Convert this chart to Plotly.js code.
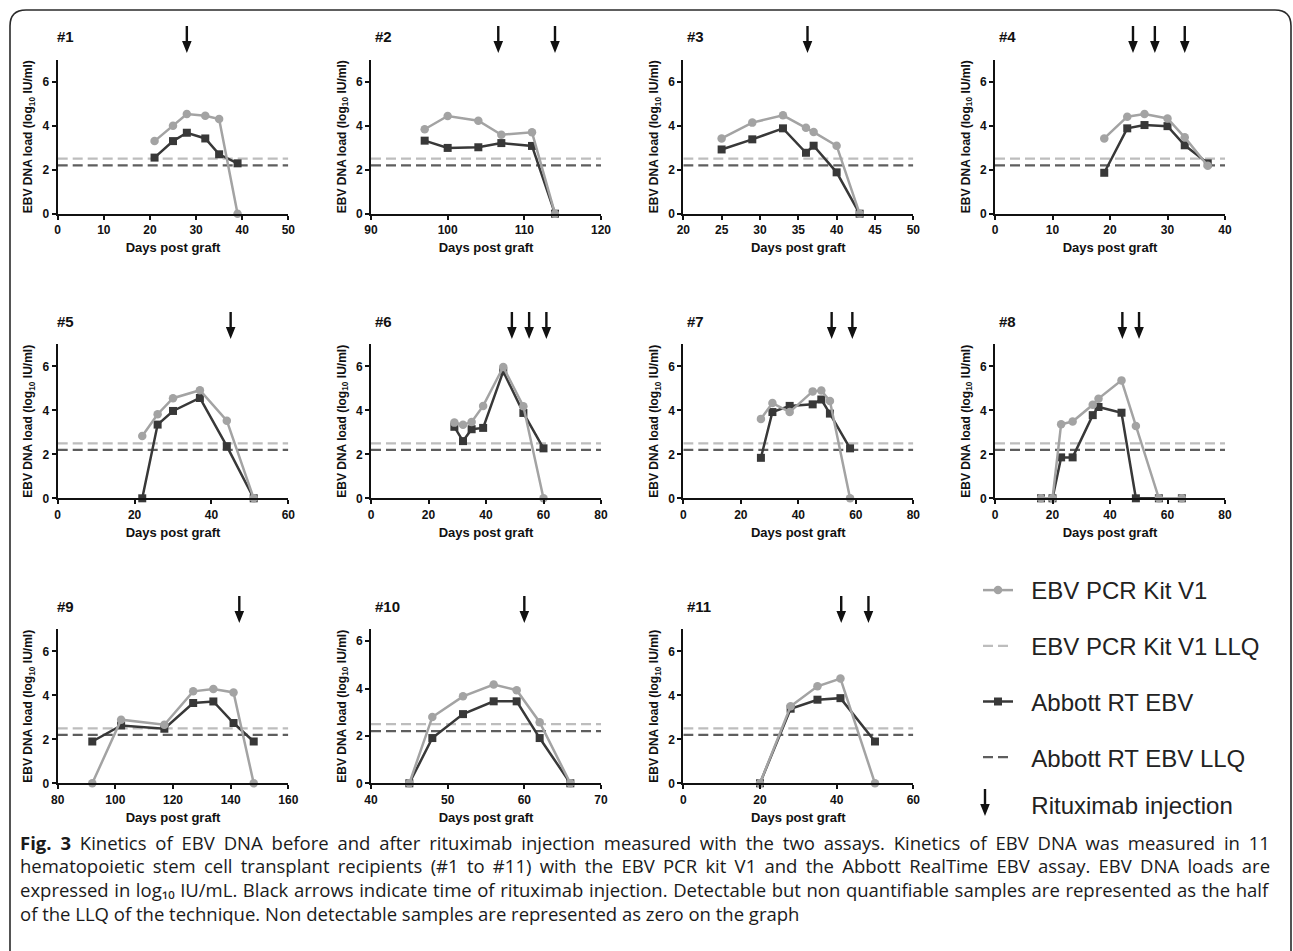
<!DOCTYPE html>
<html><head><meta charset="utf-8">
<script src="https://cdn.plot.ly/plotly-3.0.1.min.js"></script>
<style>html,body{margin:0;padding:0;background:#fff}#chart{width:1293px;height:951px}</style>
</head><body><div id="chart"></div>
<script>
// ---------- data ----------
const panelLabels = ['#1','#2','#3','#4','#5','#6','#7','#8','#9','#10','#11'];
const seriesNames = ['EBV PCR Kit V1','EBV PCR Kit V1 LLQ','Abbott RT EBV','Abbott RT EBV LLQ','Rituximab injection'];
const pcrLLQ = 2.5;
const abbottLLQ = 2.2;

const p1Days = [21,25,28,32,35,39];
const p1Pcr = [3.3,4.0,4.53,4.45,4.3,0];
const p1Abbott = [2.55,3.3,3.68,3.42,2.7,2.29];
const p1Rtx = [28];

const p2Days = [97,100,104,107,111,114];
const p2Pcr = [3.84,4.44,4.23,3.59,3.7,0];
const p2Abbott = [3.32,2.99,3.02,3.21,3.08,0];
const p2Rtx = [106.6,114];

const p3Days = [25,29,33,36,37,40,43];
const p3Pcr = [3.42,4.14,4.47,3.91,3.71,3.09,0];
const p3Abbott = [2.92,3.38,3.88,2.77,3.09,1.88,0];
const p3Rtx = [36.2];

const p4Days = [19,23,26,30,33,37];
const p4Pcr = [3.42,4.41,4.53,4.33,3.47,2.18];
const p4Abbott = [1.86,3.88,4.03,3.98,3.11,2.29];
const p4Rtx = [24,27.8,33];

const p5Days = [22,26,30,37,44,51];
const p5Pcr = [2.83,3.82,4.55,4.91,3.53,0];
const p5Abbott = [0,3.35,3.97,4.56,2.37,0];
const p5Rtx = [45];

const p6Days = [29,32,35,39,46,53,60];
const p6Pcr = [3.44,3.34,3.47,4.2,5.97,4.18,0];
const p6Abbott = [3.25,2.6,3.14,3.2,5.77,3.88,2.27];
const p6Rtx = [49,55,61];

const p7Days = [27,31,37,45,48,51,58];
const p7Pcr = [3.61,4.33,3.92,4.86,4.9,4.42,0];
const p7Abbott = [1.84,3.92,4.2,4.27,4.49,3.85,2.27];
const p7Rtx = [51.6,58.8];

const p8Days = [16,20,23,27,34,36,44,49,57,65];
const p8Pcr = [0,0,3.37,3.49,4.25,4.53,5.36,3.29,0,0];
const p8Abbott = [0,0,1.86,1.86,3.78,4.15,3.89,0,0,0];
const p8Rtx = [44.3,50.1];

const p9Days = [92,102,117,127,134,141,148];
const p9Pcr = [0,2.89,2.66,4.18,4.29,4.13,0];
const p9Abbott = [1.9,2.63,2.48,3.65,3.72,2.74,1.9];
const p9Rtx = [143];

const p10Days = [45,48,52,56,59,62,66];
const p10Pcr = [0,2.8,3.67,4.17,3.93,2.58,0];
const p10Abbott = [0,1.91,2.92,3.46,3.46,1.91,0];
const p10Rtx = [60];

const p11Days = [20,28,35,41,50];
const p11Pcr = [0,3.5,4.41,4.76,0];
const p11Abbott = [0,3.39,3.8,3.87,1.9];
const p11Rtx = [41.2,48.3];

const captionLines = [
  '<b>Fig. 3</b> Kinetics of EBV DNA before and after rituximab injection measured with the two assays. Kinetics of EBV DNA was measured in 11',
  'hematopoietic stem cell transplant recipients (#1 to #11) with the EBV PCR kit V1 and the Abbott RealTime EBV assay. EBV DNA loads are',
  'expressed in log\u2081\u2080 IU/mL. Black arrows indicate time of rituximab injection. Detectable but non quantifiable samples are represented as the half',
  'of the LLQ of the technique. Non detectable samples are represented as zero on the graph'
];

// ---------- layout geometry ----------
const W = 1293, H = 951;
const FONT = 'Liberation Sans, Arial, Helvetica, sans-serif';
const colsPx = [[57.7,288.3],[371,601],[683.3,913.3],[995,1225]];
const rowsPx = [[213.7,59.7],[498.3,344.3],[783.3,629.3]];
const arrowTipPx = [53, 339, 623];
const labelYPx = [37, 321.7, 606.7];
const labelXPx = [55, 373, 685, 997];

const panels = [
  {d:p1Days,  pcr:p1Pcr,  ab:p1Abbott,  rtx:p1Rtx,  xr:[0,50],   dt:10, ymax:7},
  {d:p2Days,  pcr:p2Pcr,  ab:p2Abbott,  rtx:p2Rtx,  xr:[90,120], dt:10, ymax:7},
  {d:p3Days,  pcr:p3Pcr,  ab:p3Abbott,  rtx:p3Rtx,  xr:[20,50],  dt:5,  ymax:7},
  {d:p4Days,  pcr:p4Pcr,  ab:p4Abbott,  rtx:p4Rtx,  xr:[0,40],   dt:10, ymax:7},
  {d:p5Days,  pcr:p5Pcr,  ab:p5Abbott,  rtx:p5Rtx,  xr:[0,60],   dt:20, ymax:7},
  {d:p6Days,  pcr:p6Pcr,  ab:p6Abbott,  rtx:p6Rtx,  xr:[0,80],   dt:20, ymax:7},
  {d:p7Days,  pcr:p7Pcr,  ab:p7Abbott,  rtx:p7Rtx,  xr:[0,80],   dt:20, ymax:7},
  {d:p8Days,  pcr:p8Pcr,  ab:p8Abbott,  rtx:p8Rtx,  xr:[0,80],   dt:20, ymax:7},
  {d:p9Days,  pcr:p9Pcr,  ab:p9Abbott,  rtx:p9Rtx,  xr:[80,160], dt:20, ymax:7},
  {d:p10Days, pcr:p10Pcr, ab:p10Abbott, rtx:p10Rtx, xr:[40,70],  dt:10, ymax:6.5},
  {d:p11Days, pcr:p11Pcr, ab:p11Abbott, rtx:p11Rtx, xr:[0,60],   dt:20, ymax:7}
];

const GRAY = '#a3a3a3', GRAY_LLQ = '#bdbdbd', DARK = '#383838', DARK_LLQ = '#5e5e5e', AXIS = '#111111';
// down-pointing arrow, tip at the anchor, stem going up (pixel units, +y is up)
const ARROW_PATH = 'M0,0 L-4.8,12 L-1.2,12 L-1.2,27 L1.2,27 L1.2,12 L4.8,12 Z';
const NB = '\u00a0\u00a0';

const legendFont = {family: FONT, size: 24, color: '#222'};
const traces = [];
const annotations = [];
const shapes = [];
const layout = {
  width: W, height: H,
  margin: {l:0, r:0, t:0, b:0},
  paper_bgcolor: '#ffffff', plot_bgcolor: 'rgba(0,0,0,0)',
  font: {family: FONT, color: '#111'},
  showlegend: true,
  legend: {
    x: 978/W, y: 1 - 568/H, xanchor: 'left', yanchor: 'top',
    font: legendFont, bgcolor: 'rgba(0,0,0,0)', borderwidth: 0,
    traceorder: 'grouped', tracegroupgap: 21.5, itemwidth: 30
  },
  legend2: {
    x: 978/W, y: 1 - 805/H, xanchor: 'left', yanchor: 'middle',
    font: legendFont, bgcolor: 'rgba(0,0,0,0)', borderwidth: 0, itemwidth: 30
  },
  hovermode: false
};

function arrowShape(xref, xval, tipPaperY) {
  return {
    type: 'path', xref: xref, yref: 'paper',
    xsizemode: 'pixel', xanchor: xval, ysizemode: 'pixel', yanchor: tipPaperY,
    path: ARROW_PATH, fillcolor: '#111', line: {width: 0}, layer: 'above'
  };
}

panels.forEach((p, i) => {
  const n = i + 1;
  const sfx = n === 1 ? '' : String(n);
  const xa = 'x' + sfx, ya = 'y' + sfx;
  const row = Math.floor(i / 4), col = i % 4;
  const tickFont = {family: FONT, size: 12, color: AXIS, weight: 'bold'};
  layout['xaxis' + sfx] = {
    domain: [colsPx[col][0]/W, colsPx[col][1]/W], anchor: ya,
    range: p.xr, tick0: p.xr[0], dtick: p.dt,
    showline: true, linecolor: AXIS, linewidth: 2,
    ticks: 'outside', ticklen: 4, tickwidth: 2, tickcolor: AXIS,
    showgrid: false, zeroline: false, tickfont: tickFont,
    title: {text: 'Days post graft', font: {family: FONT, size: 13, color: AXIS, weight: 'bold'}, standoff: 7}
  };
  layout['yaxis' + sfx] = {
    domain: [1 - rowsPx[row][0]/H, 1 - rowsPx[row][1]/H], anchor: xa,
    range: [0, p.ymax], tickvals: [0,2,4,6],
    showline: true, linecolor: AXIS, linewidth: 2,
    ticks: 'outside', ticklen: 4, tickwidth: 2, tickcolor: AXIS,
    showgrid: false, zeroline: false, tickfont: tickFont,
    title: {text: 'EBV DNA load (log<sub>10</sub> IU/ml)', font: {family: FONT, size: 12, color: AXIS, weight: 'bold'}, standoff: 7}
  };
  const first = i === 0;
  traces.push({
    x: p.xr, y: [pcrLLQ, pcrLLQ], xaxis: xa, yaxis: ya, mode: 'lines',
    line: {color: GRAY_LLQ, width: 2.2, dash: '10px,5px'},
    name: NB + seriesNames[1], legendgroup: 'g2', legendrank: 2, showlegend: first, cliponaxis: false
  });
  traces.push({
    x: p.xr, y: [abbottLLQ, abbottLLQ], xaxis: xa, yaxis: ya, mode: 'lines',
    line: {color: DARK_LLQ, width: 2.2, dash: '10px,5px'},
    name: NB + seriesNames[3], legendgroup: 'g4', legendrank: 4, showlegend: first, cliponaxis: false
  });
  traces.push({
    x: p.d, y: p.ab, xaxis: xa, yaxis: ya, mode: 'lines+markers',
    line: {color: DARK, width: 2.5}, marker: {symbol: 'square', size: 8, color: DARK},
    name: NB + seriesNames[2], legendgroup: 'g3', legendrank: 3, showlegend: first, cliponaxis: false
  });
  traces.push({
    x: p.d, y: p.pcr, xaxis: xa, yaxis: ya, mode: 'lines+markers',
    line: {color: GRAY, width: 2.5}, marker: {symbol: 'circle', size: 8.5, color: GRAY},
    name: NB + seriesNames[0], legendgroup: 'g1', legendrank: 1, showlegend: first, cliponaxis: false
  });
  annotations.push({
    text: '<b>' + panelLabels[i] + '</b>', xref: 'paper', yref: 'paper',
    x: labelXPx[col]/W, y: 1 - labelYPx[row]/H, xanchor: 'left', yanchor: 'middle',
    showarrow: false, font: {family: FONT, size: 15, color: AXIS}
  });
  p.rtx.forEach(day => shapes.push(arrowShape(xa, day, 1 - arrowTipPx[row]/H)));
});

// legend entry for the arrows (its symbol is drawn as a shape)
traces.push({
  x: [null], y: [null], xaxis: 'x', yaxis: 'y', mode: 'markers',
  marker: {color: 'rgba(0,0,0,0)', size: 1},
  name: NB + seriesNames[4], legend: 'legend2', showlegend: true
});
shapes.push(arrowShape('paper', 985/W, 1 - 816/H));

// caption
const capY = [842, 865.8, 889.6, 913.4];
const capJustify = [true, true, true, false];
captionLines.forEach((t, k) => {
  annotations.push({
    text: t, xref: 'paper', yref: 'paper', x: 18/W, y: 1 - capY[k]/H,
    xanchor: 'left', yanchor: 'middle', align: 'left', showarrow: false,
    font: {family: 'Open Sans, Noto Sans, DejaVu Sans, sans-serif', size: 18.5, color: '#1a1a1a'}
  });
});

// rounded frame (open at bottom)
function P(px, py) { return (px/W).toFixed(5) + ',' + (1 - py/H).toFixed(5); }
shapes.push({
  type: 'path', xref: 'paper', yref: 'paper', layer: 'above',
  path: 'M' + P(10, 951) + ' L' + P(10, 26) + ' Q' + P(10, 10) + ' ' + P(26, 10) +
        ' L' + P(1275, 10) + ' Q' + P(1291, 10) + ' ' + P(1291, 26) + ' L' + P(1291, 951),
  line: {color: '#2a2a2a', width: 1.6}
});

layout.annotations = annotations;
layout.shapes = shapes;

const capStart = annotations.length - captionLines.length;
Plotly.newPlot('chart', traces, layout, {staticPlot: true, displayModeBar: false}).then(() => {
  // justify the full caption lines (extra word spacing), as in the printed figure
  captionLines.forEach((t, k) => {
    if (!capJustify[k]) return;
    const g = document.querySelector('.annotation[data-index="' + (capStart + k) + '"]');
    if (!g) return;
    const txt = g.querySelector('text.annotation-text');
    if (!txt) return;
    const bb = txt.getBBox();
    const target = 1250;
    const spaces = (txt.textContent.match(/ /g) || []).length;
    if (bb.width > 0 && spaces > 0) {
      const extra = (target - bb.width) / spaces;
      txt.style.wordSpacing = extra.toFixed(2) + 'px';
      const bb2 = txt.getBBox();
      const dx = bb.x - bb2.x;
      if (Math.abs(dx) > 0.5) {
        const cur = parseFloat(txt.getAttribute('x') || '0');
        txt.setAttribute('x', String(cur + dx));
      }
    }
  });
});
</script>
</body></html>
